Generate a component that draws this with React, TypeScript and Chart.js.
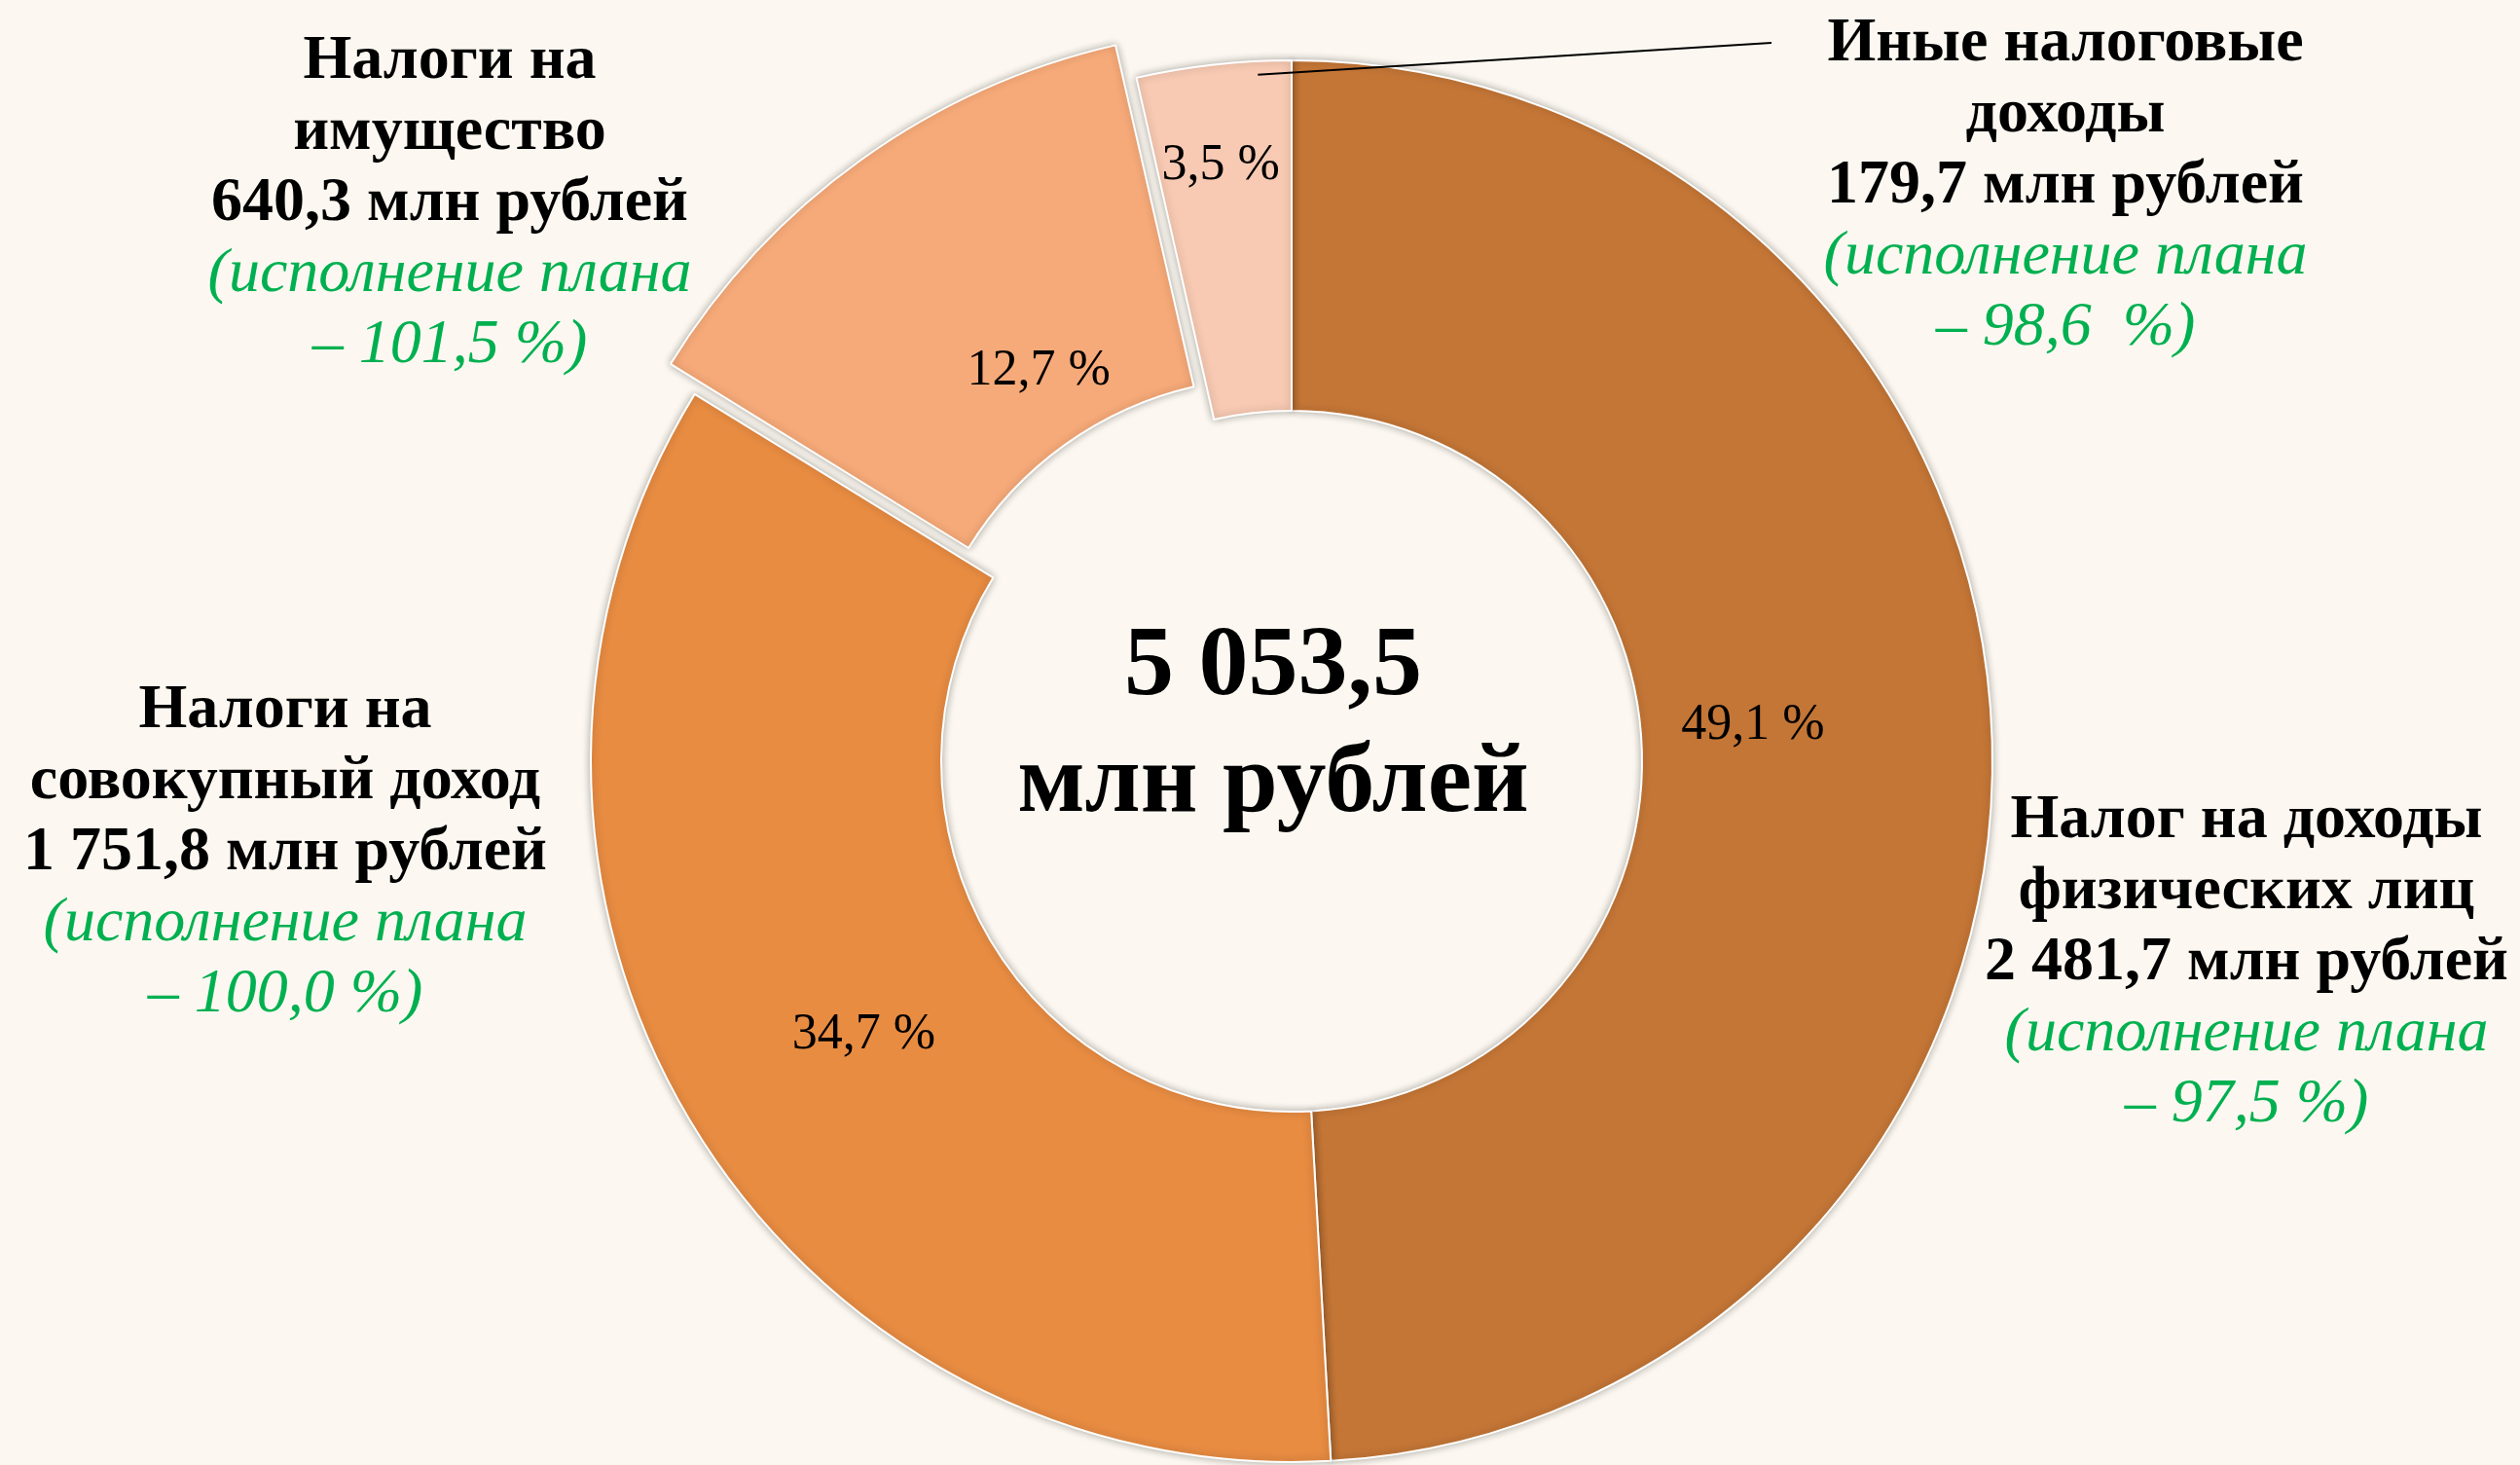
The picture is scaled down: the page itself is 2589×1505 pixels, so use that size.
import React, { useEffect, useRef } from 'react';
import { Chart, registerables } from 'chart.js';

Chart.register(...registerables);

// ---- data ----
const categories = [
  'Налог на доходы физических лиц',
  'Налоги на совокупный доход',
  'Налоги на имущество',
  'Иные налоговые доходы',
];
const categoryLines = [
  ['Налог на доходы', 'физических лиц'],
  ['Налоги на', 'совокупный доход'],
  ['Налоги на', 'имущество'],
  ['Иные налоговые', 'доходы'],
];
const values = [2481.7, 1751.8, 640.3, 179.7];
const amountLabels = ['2 481,7', '1 751,8', '640,3', '179,7'];
const shareLabels = ['49,1 %', '34,7 %', '12,7 %', '3,5 %'];
const planLabels = ['97,5 %', '100,0 %', '101,5 %', '98,6  %'];
const totalLabel = '5 053,5';
const unitLabel = 'млн рублей';

// ---- style ----
const W = 2589;
const H = 1505;
const BG = '#FCF8F1';
const sliceColors = ['#C47636', '#E88C42', '#F7AA79', '#F8CAB3'];
const sliceOffsets = [0, 0, 124, 0];
const GREEN = '#00B050';
const SERIF = '"Liberation Serif", "Times New Roman", serif';
// share label placement: fraction across ring, angle shift (deg)
const shareRadial = [0.32, 0.45, 0.24, 0.71];
const shareAngleShift = [-2.8, -1.8, 2.8, -0.4];
// outer label blocks: center x, first baseline y
const blockPos = [
  { x: 2308, y: 860 },
  { x: 293, y: 747 },
  { x: 462, y: 80 },
  { x: 2122, y: 62 },
];
const LINE_H = 73;
const LABEL_FONT = 64;

const shadowPlugin = {
  id: 'sliceShadow',
  beforeDatasetsDraw(chart: any) {
    const ctx = chart.ctx;
    ctx.save();
    ctx.shadowColor = 'rgba(0,0,0,0.32)';
    ctx.shadowBlur = 9;
    ctx.shadowOffsetX = 0;
    ctx.shadowOffsetY = 0;
  },
  afterDatasetsDraw(chart: any) {
    chart.ctx.restore();
  },
};

const textPlugin = {
  id: 'textLabels',
  afterDraw(chart: any) {
    const ctx = chart.ctx as CanvasRenderingContext2D;
    const meta = chart.getDatasetMeta(0);
    ctx.save();

    // percentages on slices
    ctx.font = `52px ${SERIF}`;
    ctx.fillStyle = '#000';
    ctx.textAlign = 'center';
    ctx.textBaseline = 'middle';
    meta.data.forEach((arc: any, i: number) => {
      const p = arc.getProps(['x', 'y', 'startAngle', 'endAngle', 'innerRadius', 'outerRadius']);
      const half = (p.startAngle + p.endAngle) / 2;
      const off = sliceOffsets[i] / 4;
      const cx = p.x + Math.cos(half) * off;
      const cy = p.y + Math.sin(half) * off;
      const a = half + (shareAngleShift[i] * Math.PI) / 180;
      const r = p.innerRadius + (p.outerRadius - p.innerRadius) * shareRadial[i];
      ctx.fillText(shareLabels[i], cx + Math.cos(a) * r, cy + Math.sin(a) * r);
    });

    // leader line for the smallest slice
    const arc3 = meta.data[3].getProps(['x', 'y', 'startAngle', 'endAngle', 'outerRadius']);
    const la = arc3.startAngle + 0.78 * (arc3.endAngle - arc3.startAngle);
    const lr = arc3.outerRadius - 14;
    ctx.strokeStyle = '#000';
    ctx.lineWidth = 2;
    ctx.beginPath();
    ctx.moveTo(arc3.x + Math.cos(la) * lr, arc3.y + Math.sin(la) * lr);
    ctx.lineTo(1820, 44);
    ctx.stroke();

    // outer label blocks
    ctx.textBaseline = 'alphabetic';
    categoryLines.forEach((lines, i) => {
      const rows = [
        ...lines.map((t) => ({ t, f: `bold ${LABEL_FONT}px ${SERIF}`, c: '#000' })),
        { t: `${amountLabels[i]} ${unitLabel}`, f: `bold ${LABEL_FONT}px ${SERIF}`, c: '#000' },
        { t: '(исполнение плана', f: `italic ${LABEL_FONT}px ${SERIF}`, c: GREEN },
        { t: `– ${planLabels[i]})`, f: `italic ${LABEL_FONT}px ${SERIF}`, c: GREEN },
      ];
      rows.forEach((row, k) => {
        ctx.font = row.f;
        ctx.fillStyle = row.c;
        ctx.fillText(row.t, blockPos[i].x, blockPos[i].y + k * LINE_H);
      });
    });

    // center total
    ctx.fillStyle = '#000';
    ctx.font = `bold 102px ${SERIF}`;
    ctx.fillText(totalLabel, 1308, 713);
    ctx.fillText(unitLabel, 1308, 833);

    ctx.restore();
  },
};

export default function App() {
  const ref = useRef<HTMLCanvasElement | null>(null);

  useEffect(() => {
    document.body.style.margin = '0';
    document.body.style.background = BG;
    const canvas = ref.current;
    if (!canvas) return;
    const chart = new Chart(canvas, {
      type: 'doughnut',
      data: {
        labels: categories,
        datasets: [
          {
            data: values,
            backgroundColor: sliceColors,
            borderColor: '#FFFFFF',
            borderWidth: 2,
            offset: sliceOffsets,
          },
        ],
      },
      options: {
        responsive: false,
        animation: false,
        devicePixelRatio: 1,
        cutout: '50%',
        radius: 720,
        rotation: 0,
        layout: { padding: { left: 65, top: 59, right: 0, bottom: 0 } },
        plugins: {
          legend: { display: false },
          tooltip: { enabled: false },
          title: { display: false },
        },
      } as any,
      plugins: [shadowPlugin, textPlugin],
    });
    return () => chart.destroy();
  }, []);

  return (
    <div style={{ position: 'fixed', left: 0, top: 0, width: W, height: H, background: BG }}>
      <canvas ref={ref} width={W} height={H} style={{ display: 'block', width: W, height: H }} />
    </div>
  );
}
